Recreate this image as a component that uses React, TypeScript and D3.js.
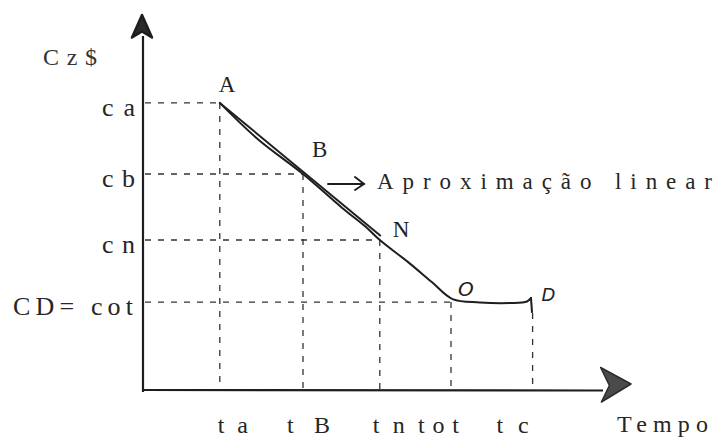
import React from "react";
import * as d3 from "d3";

// Time marks on the horizontal axis
const timeLabels = ["ta", "tB", "tn", "tot", "tc"];
const timeValues = [0.96, 2.0, 2.96, 3.85, 4.87];

// Cost levels on the vertical axis
const costLabels = ["ca", "cb", "cn", "CD= cot"];
const costValues = [9.57, 7.2, 5.0, 2.93];

// Named points on the cost curve: [label, time index, cost index]
const pointNames = ["A", "B", "N", "O", "D"];
const pointTimeIdx = [0, 1, 2, 3, 4];
const pointCostIdx = [0, 1, 2, 3, 3];

// Cost curve over time
const curveTime = [0.96, 1.44, 2.0, 2.49, 2.78, 2.96, 3.31, 3.61, 3.87, 4.21, 4.59, 4.8, 4.85];
const curveCost = [9.57, 8.35, 7.2, 6.07, 5.45, 5.0, 4.27, 3.6, 3.03, 2.92, 2.9, 2.95, 3.07];

const W = 721;
const H = 443;
const ink = "#1e1e1e";
const serif = "'Liberation Serif', 'DejaVu Serif', serif";

export default function App() {
  const x = d3.scaleLinear().domain([0, 6.1]).range([143, 631]);
  const y = d3.scaleLinear().domain([0, 12.5]).range([390, 15]);

  const x0 = x(0);
  const y0 = y(0);

  const curvePts: [number, number][] = curveTime.map((t, i) => [x(t), y(curveCost[i])]);
  const curvePath = d3.line().curve(d3.curveCatmullRom.alpha(0.5))(curvePts) || "";

  // Short hook down at the end of the curve
  const endT = curveTime[curveTime.length - 1];
  const hook = `M${x(endT)},${y(curveCost[curveCost.length - 1])} L${x(endT) + 1},${y(2.57)}`;

  // Straight line from A to N (the linear approximation)
  const ax = x(timeValues[0]);
  const ay = y(costValues[0]);
  const nx = x(timeValues[2]);
  const ny = y(costValues[2]);

  const dash = "6 7";

  // horizontal guides run from the vertical axis to the point of each cost level
  const hGuides = [0, 1, 2, 3].map((i) => ({ cy: y(costValues[i]), tx: x(timeValues[i]) }));
  // vertical guides drop from each named point to the time axis
  const vGuides = pointNames.map((_, i) => ({
    tx: x(timeValues[pointTimeIdx[i]]),
    cy: i === 4 ? y(2.57) : y(costValues[pointCostIdx[i]]),
  }));

  // label extents along the time axis (start offset, width)
  const timeLabelLayout = [
    [-2, 30],
    [-16, 43],
    [-7, 32],
    [-33, 41],
    [-36, 32],
  ];
  const costLabelLayout = [
    [102, 33],
    [102, 33],
    [102, 33],
    [13, 120],
  ];
  const pointLabelLayout = [
    { dx: -1, dy: -11, italic: false, size: 23 },
    { dx: 9, dy: -17, italic: false, size: 23 },
    { dx: 13, dy: -3, italic: false, size: 23 },
    { dx: 7, dy: -6, italic: true, size: 20 },
    { dx: 9, dy: -1, italic: true, size: 18 },
  ];

  const xLabelBase = 433;

  return (
    <svg
      width={W}
      height={H}
      viewBox={`0 0 ${W} ${H}`}
      style={{ position: "absolute", left: 0, top: 0, background: "#fff" }}
    >
      <rect width={W} height={H} fill="#fff" />

      {/* guides */}
      <g stroke="#333" strokeWidth={1.3} strokeDasharray={dash} fill="none">
        {hGuides.map((g, i) => (
          <line key={"h" + i} x1={x0 + 2} y1={g.cy} x2={g.tx} y2={g.cy} />
        ))}
        {vGuides.map((g, i) => (
          <line key={"v" + i} x1={g.tx} y1={g.cy} x2={g.tx} y2={y0} />
        ))}
      </g>

      {/* axes */}
      <g stroke={ink} fill="none" strokeWidth={2.2}>
        <line x1={x0} y1={y0 + 2} x2={x0} y2={y(11.8)} />
        <line x1={x0} y1={y0} x2={x(5.75)} y2={y0 + 0.5} />
      </g>
      <path
        d={`M${x0 - 1},${y(12.5)} L${x0 + 9},${y(11.75)} L${x0 - 1},${y(11.95)} L${x0 - 11},${y(11.75)} Z`}
        fill="#2a2a2a"
        stroke={ink}
        strokeWidth={2.5}
        strokeLinejoin="round"
      />
      <path
        d={`M${x(6.1)},${y(0.2)} L${x(5.72)},${y(0.75)} L${x(5.83)},${y(0.15)} L${x(5.73)},${y(-0.4)} Z`}
        fill="#4a4a4a"
        stroke="#2a2a2a"
        strokeWidth={1.5}
        strokeLinejoin="round"
      />

      {/* linear approximation and the cost curve */}
      <line x1={ax} y1={ay} x2={nx + 1} y2={ny - 4} stroke={ink} strokeWidth={2} />
      <path d={curvePath} fill="none" stroke={ink} strokeWidth={2} strokeLinecap="round" />
      <path d={hook} fill="none" stroke={ink} strokeWidth={2} />

      {/* pointer to the annotation */}
      <g stroke={ink} strokeWidth={1.9} fill="none" strokeLinecap="round">
        <line x1={328} y1={184} x2={364} y2={184} />
        <polyline points="355,177 364,184 355,190" />
      </g>
      <text
        x={377}
        y={189}
        fontFamily={serif}
        fontSize={23}
        fill="#262626"
        textLength={335}
        lengthAdjust="spacing"
      >
        Aproximação linear
      </text>

      {/* axis titles */}
      <text x={43} y={65} fontFamily={serif} fontSize={24} fill="#333" textLength={54} lengthAdjust="spacing">
        Cz$
      </text>
      <text x={617} y={xLabelBase - 1} fontFamily={serif} fontSize={24} fill="#262626" textLength={91} lengthAdjust="spacing">
        Tempo
      </text>

      {/* cost labels */}
      {costLabels.map((lab, i) => (
        <text
          key={lab}
          x={costLabelLayout[i][0]}
          y={y(costValues[i]) + 13}
          fontFamily={serif}
          fontSize={26}
          fill="#262626"
          textLength={costLabelLayout[i][1]}
          lengthAdjust="spacing"
        >
          {lab}
        </text>
      ))}

      {/* time labels */}
      {timeLabels.map((lab, i) => (
        <text
          key={lab}
          x={x(timeValues[i]) + timeLabelLayout[i][0]}
          y={xLabelBase}
          fontFamily={serif}
          fontSize={24}
          fill="#262626"
          textLength={timeLabelLayout[i][1]}
          lengthAdjust="spacing"
        >
          {lab}
        </text>
      ))}

      {/* point names */}
      {pointNames.map((name, i) => {
        const px = x(timeValues[pointTimeIdx[i]]);
        const py = y(costValues[pointCostIdx[i]]);
        const l = pointLabelLayout[i];
        return (
          <text
            key={name}
            x={px + l.dx}
            y={py + l.dy}
            fontFamily={l.italic ? "'DejaVu Sans', sans-serif" : serif}
            fontStyle={l.italic ? "italic" : "normal"}
            fontSize={l.size}
            fill="#222"
          >
            {name}
          </text>
        );
      })}
    </svg>
  );
}
